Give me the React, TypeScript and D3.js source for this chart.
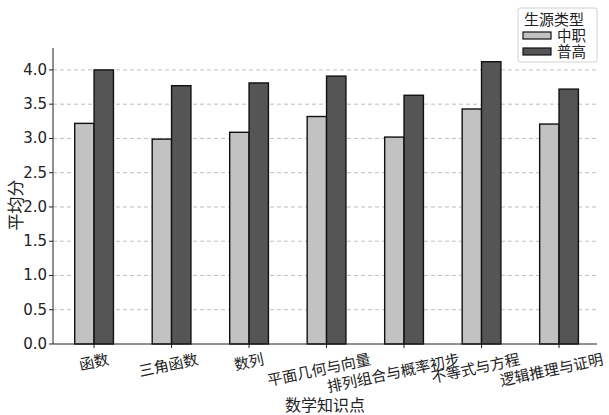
import React from 'react';
import * as d3 from 'd3';

const categories = ['函数', '三角函数', '数列', '平面几何与向量', '排列组合与概率初步', '不等式与方程', '逻辑推理与证明'];
const zhongzhi = [3.22, 2.99, 3.09, 3.32, 3.02, 3.43, 3.21];
const pugao = [4.0, 3.77, 3.81, 3.91, 3.63, 4.12, 3.72];
const yTicks = [0, 0.5, 1.0, 1.5, 2.0, 2.5, 3.0, 3.5, 4.0];
const seriesNames = ['中职', '普高'];
const seriesColors = ['#c2c2c2', '#555555'];

const FONT = '"DejaVu Sans", "Noto Sans CJK SC", sans-serif';

const App: React.FC = () => {
  const width = 609;
  const height = 415;
  const margin = { left: 53, right: 12, top: 48, bottom: 71 };
  const plotRight = width - margin.right;
  const plotBottom = height - margin.bottom;

  const x = d3.scaleLinear().domain([-0.53, categories.length - 0.51]).range([margin.left, plotRight]);
  const y = d3.scaleLinear().domain([0, 4.32]).range([plotBottom, margin.top]);
  const barW = 0.25;
  const series = [zhongzhi, pugao];

  const labelFs = 15;
  const ang = (12 * Math.PI) / 180;

  return (
    <svg width={width} height={height} style={{ position: 'absolute', left: 0, top: 0, fontFamily: FONT }}>
      <rect width={width} height={height} fill="#fff" />
      {/* grid */}
      {yTicks.slice(1).map(t => (
        <line key={'g' + t} x1={margin.left} x2={plotRight} y1={y(t)} y2={y(t)}
          stroke="#b8b8b8" strokeWidth={0.9} strokeDasharray="4,3" />
      ))}
      {/* bars */}
      {series.map((vals, si) =>
        vals.map((v, i) => {
          const x0 = x(i - barW + si * barW);
          const x1 = x(i + si * barW);
          return (
            <rect key={si + '-' + i} x={x0} y={y(v)} width={x1 - x0} height={y(0) - y(v)}
              fill={seriesColors[si]} stroke="#111" strokeWidth={1.4} />
          );
        })
      )}
      {/* spines */}
      <line x1={margin.left} x2={margin.left} y1={margin.top} y2={plotBottom} stroke="#222" strokeWidth={1} />
      <line x1={margin.left} x2={plotRight} y1={plotBottom} y2={plotBottom} stroke="#222" strokeWidth={1} />
      {/* y ticks */}
      {yTicks.map(t => (
        <g key={'y' + t}>
          <line x1={margin.left - 4} x2={margin.left} y1={y(t)} y2={y(t)} stroke="#222" />
          <text x={margin.left - 6} y={y(t)} textAnchor="end" dominantBaseline="central" fontSize={15} fill="#222">
            {t.toFixed(1)}
          </text>
        </g>
      ))}
      {/* x ticks and labels */}
      {categories.map((c, i) => {
        const w = c.length * labelFs;
        const h = w * Math.sin(ang) + labelFs * Math.cos(ang);
        const cy = plotBottom + 8 + h / 2;
        const cx = x(i) - 0.1 * (w - 2 * labelFs);
        return (
          <g key={'x' + c}>
            <line x1={x(i)} x2={x(i)} y1={plotBottom} y2={plotBottom + 4} stroke="#222" />
            <text x={cx} y={cy} textAnchor="middle" dominantBaseline="central" fontSize={labelFs} fill="#222"
              transform={`rotate(-12, ${cx}, ${cy})`}>
              {c}
            </text>
          </g>
        );
      })}
      {/* axis titles */}
      <text x={(margin.left + plotRight) / 2} y={411} textAnchor="middle" fontSize={16} fill="#222">数学知识点</text>
      <text x={16} y={205} textAnchor="middle" dominantBaseline="central" fontSize={17} fill="#222"
        transform="rotate(-90, 16, 205)">平均分</text>
      {/* legend */}
      <g>
        <rect x={518} y={8} width={79} height={54} rx={2} fill="#fff" stroke="#d0d0d0" strokeWidth={1} />
        <text x={554} y={20} textAnchor="middle" dominantBaseline="central" fontSize={15} fill="#222">生源类型</text>
        {seriesNames.map((s, si) => (
          <g key={s}>
            <rect x={523} y={32 + si * 16} width={28} height={7} fill={seriesColors[si]} stroke="#111" strokeWidth={1.2} />
            <text x={557} y={35.5 + si * 16} dominantBaseline="central" fontSize={14.5} fill="#222">{s}</text>
          </g>
        ))}
      </g>
    </svg>
  );
};

export default App;
